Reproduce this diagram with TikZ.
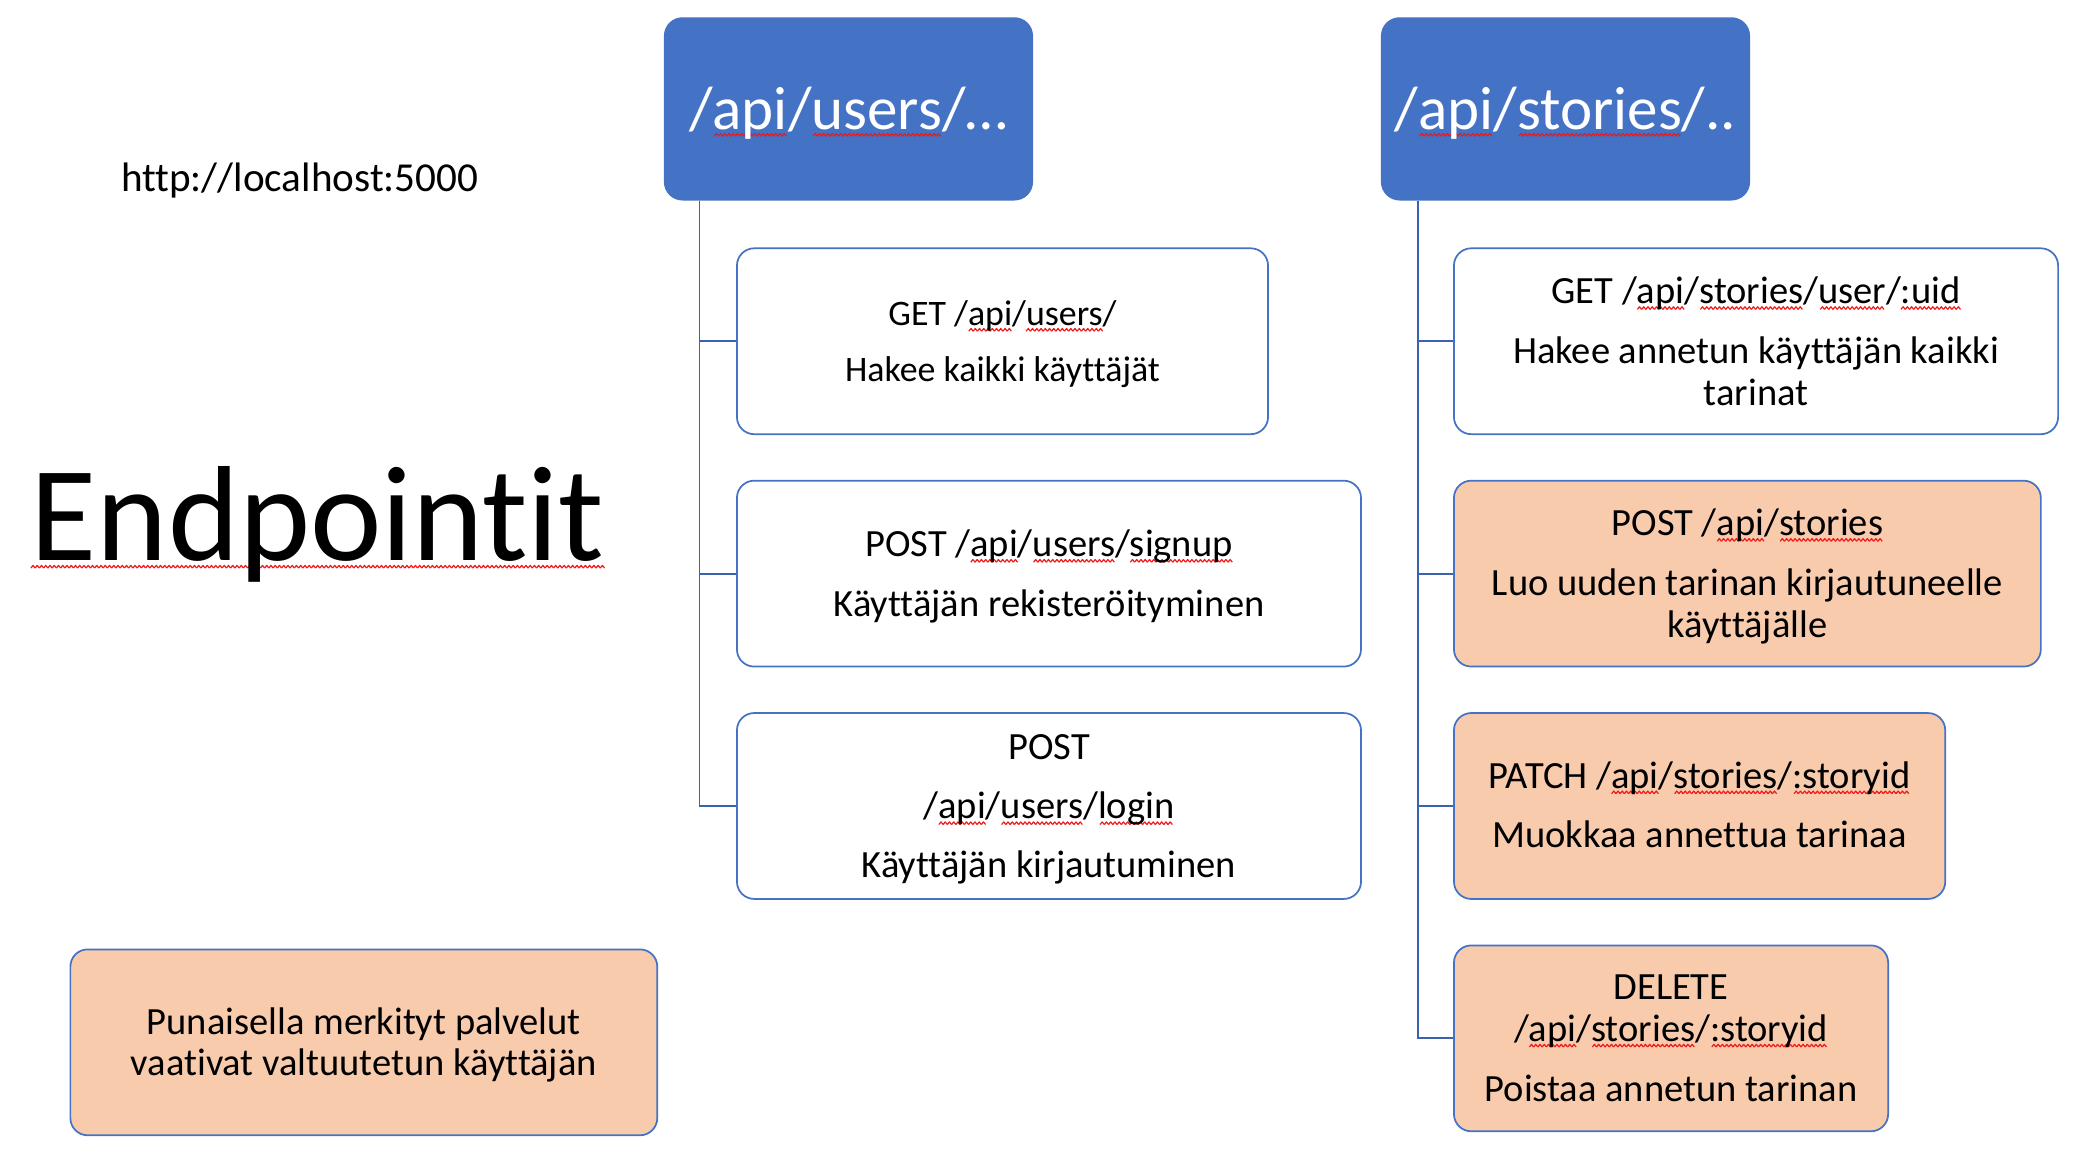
\documentclass[tikz,border=0pt]{standalone}
\usepackage{fontspec}
\setmainfont{Carlito}[Ligatures={NoCommon}]
\definecolor{hdrblue}{HTML}{4472C4}
\definecolor{lineblue}{HTML}{4472C4}
\definecolor{connblue}{HTML}{3A62B0}
\definecolor{peach}{HTML}{F8CBAD}
\definecolor{wavered}{HTML}{F01818}
\newsavebox\wavebox
\newsavebox\sqwordbox
\newcommand\sq[2][4.5pt]{\sbox\sqwordbox{#2}\rlap{\lower#1\hbox to\wd\sqwordbox{\cleaders\copy\wavebox\hfil}}\usebox\sqwordbox}
\begin{document}
\sbox\wavebox{\begin{pgfpicture}%
\pgfpathrectangle{\pgfpointorigin}{\pgfpoint{3.2pt}{2.4pt}}\pgfusepath{use as bounding box}%
\pgfsetlinewidth{0.9pt}\pgfsetstrokecolor{wavered}\pgfsetroundjoin
\pgfpathmoveto{\pgfpoint{0pt}{0.2pt}}\pgfpathlineto{\pgfpoint{1.6pt}{2.2pt}}\pgfpathlineto{\pgfpoint{3.2pt}{0.2pt}}\pgfusepath{stroke}%
\end{pgfpicture}}%
\begin{tikzpicture}[x=1pt,y=-1pt,
  hdr/.style={fill=hdrblue,draw=none,rounded corners=14pt,inner sep=0pt,
    minimum width=278pt,minimum height=138pt},
  hdrtxt/.style={text=white,inner sep=0pt,font=\fontsize{46}{55}\selectfont},
  epbox/.style={draw=lineblue,line width=1.3pt,rounded corners=13pt,fill=white,inner sep=0pt,
    minimum height=140pt},
  authbox/.style={epbox,fill=peach},
  txt/.style={align=center,inner sep=0pt,font=\fontsize{29}{31.5}\selectfont},
  smalltxt/.style={align=center,inner sep=0pt,font=\fontsize{27}{29.3}\selectfont},
  conn/.style={draw=connblue,line width=1.4pt}]
\useasboundingbox (0,0) rectangle (1568,881);
% left texts
\node[anchor=base west,inner sep=0pt,font=\fontsize{31}{37}\selectfont] (host) at (91,144) {http://localhost:5000};
\node[anchor=base west,inner sep=0pt,font=\fontsize{102}{122}\selectfont] (title) at (23,422) {\sq[6pt]{Endpointit}};
\node[authbox,minimum width=442pt] (legend) at (274,785) {};
\node[txt] (legend-t) at (274,787) {Punaisella merkityt palvelut\\vaativat valtuutetun käyttäjän};
% headers
\node[hdr] (uh) at (639,82) {};
\node[hdrtxt] (uh-t) at (639,85) {/\sq[5.5pt]{api}/\sq[5.5pt]{users}/…};
\node[hdr] (sh) at (1179,82) {};
\node[hdrtxt] (sh-t) at (1179,85) {/\sq[5.5pt]{api}/\sq[5.5pt]{stories}/..};
% users children
\node[epbox,minimum width=400pt] (ug) at (755,257) {};
\node[smalltxt] (ug-t) at (755,259) {GET /\sq{api}/\sq{users}/\\[12.6pt]Hakee kaikki käyttäjät};
\node[epbox,minimum width=470pt] (us) at (790,432) {};
\node[txt] (us-t) at (790,434) {POST /\sq{api}/\sq{users}/\sq{signup}\\[13.5pt]Käyttäjän rekisteröityminen};
\node[epbox,minimum width=470pt] (ul) at (790,607) {};
\node[txt] (ul-t) at (790,609.5) {POST\\[13.5pt]/\sq{api}/\sq{users}/\sq{login}\\[13pt]Käyttäjän kirjautuminen};
% stories children
\node[epbox,minimum width=455pt] (sg) at (1322.5,257) {};
\node[txt] (sg-t) at (1322.5,257) {GET /\sq{api}/\sq{stories}/\sq{user}/\sq{:uid}\\[13.5pt]Hakee annetun käyttäjän kaikki\\tarinat};
\node[authbox,minimum width=442pt] (sp) at (1316,432) {};
\node[txt] (sp-t) at (1316,434) {POST /\sq{api}/\sq{stories}\\[13.5pt]Luo uuden tarinan kirjautuneelle\\käyttäjälle};
\node[authbox,minimum width=370pt] (sa) at (1280,607) {};
\node[txt] (sa-t) at (1280,606) {PATCH /\sq{api}/\sq{stories}/\sq{:storyid}\\[13.5pt]Muokkaa annettua tarinaa};
\node[authbox,minimum width=327pt] (sd) at (1258.5,782) {};
\node[txt] (sd-t) at (1258.5,782) {DELETE\\/\sq{api}/\sq{stories}/\sq{:storyid}\\[14pt]Poistaa annetun tarinan};
% connectors
\coordinate (ut) at ([xshift=27pt]uh.south west);
\coordinate (st) at ([xshift=28pt]sh.south west);
\foreach \c in {ug,us,ul} \draw[conn] (ut) |- (\c.west);
\foreach \c in {sg,sp,sa,sd} \draw[conn] (st) |- (\c.west);
\end{tikzpicture}
\end{document}
